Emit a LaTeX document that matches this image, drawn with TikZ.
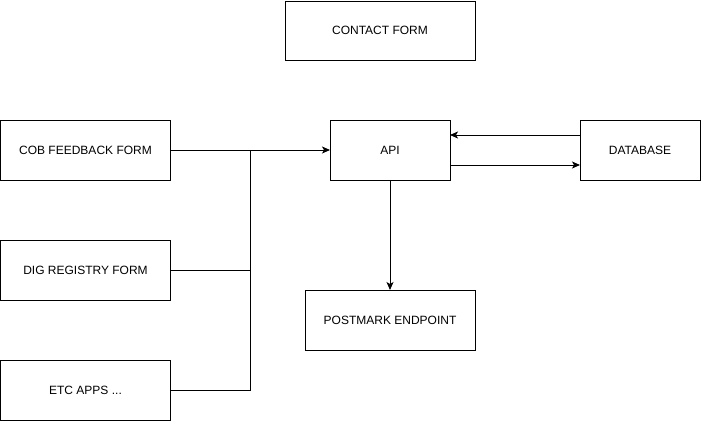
\documentclass[tikz,border=0pt]{standalone}
\usepackage{fontspec}
\setmainfont{Liberation Sans}
\usepackage{tikz}
\usetikzlibrary{arrows.meta,calc,positioning}

\tikzset{
    box/.style={draw, line width=1pt, inner sep=0pt, outer sep=0pt,
        minimum height=60pt, font=\fontsize{12pt}{14pt}\selectfont},
    link/.style={line width=1pt},
    flow/.style={line width=1pt, -{Stealth[length=8pt,width=7pt,inset=2pt]}}
}

\begin{document}
\begin{tikzpicture}[x=1pt, y=1pt]
        \useasboundingbox (0,0) rectangle (701,-421);

        \node[box, minimum width=190pt, minimum height=59pt] (contact) at (380,-30.5) {CONTACT FORM};

        \node[box, minimum width=170pt] (cob) at (85.5,-150) {COB FEEDBACK FORM};
        \node[box, minimum width=170pt] (dig) at (85.5,-270) {DIG REGISTRY FORM};
        \node[box, minimum width=170pt] (etc) at (85.5,-390) {ETC APPS ...};

        \node[box, minimum width=120pt] (api) at (390,-150) {API};
        \node[box, minimum width=120pt] (db) at (640,-150) {DATABASE};
        \node[box, minimum width=170pt] (postmark) at (390,-320) {POSTMARK ENDPOINT};

        \coordinate (junc) at (250,-150);

        \draw [flow] (cob) -- (api);
        \draw [link] (dig.east) -| (junc);
        \draw [link] (etc.east) -| (junc);

        \draw [flow] ($(db.west) + (0,15)$) -- ($(api.east) + (0,15)$);
        \draw [flow] ($(api.east) + (0,-15)$) -- ($(db.west) + (0,-15)$);
        \draw [flow] (api) -- (postmark);
    \end{tikzpicture}
\end{document}
